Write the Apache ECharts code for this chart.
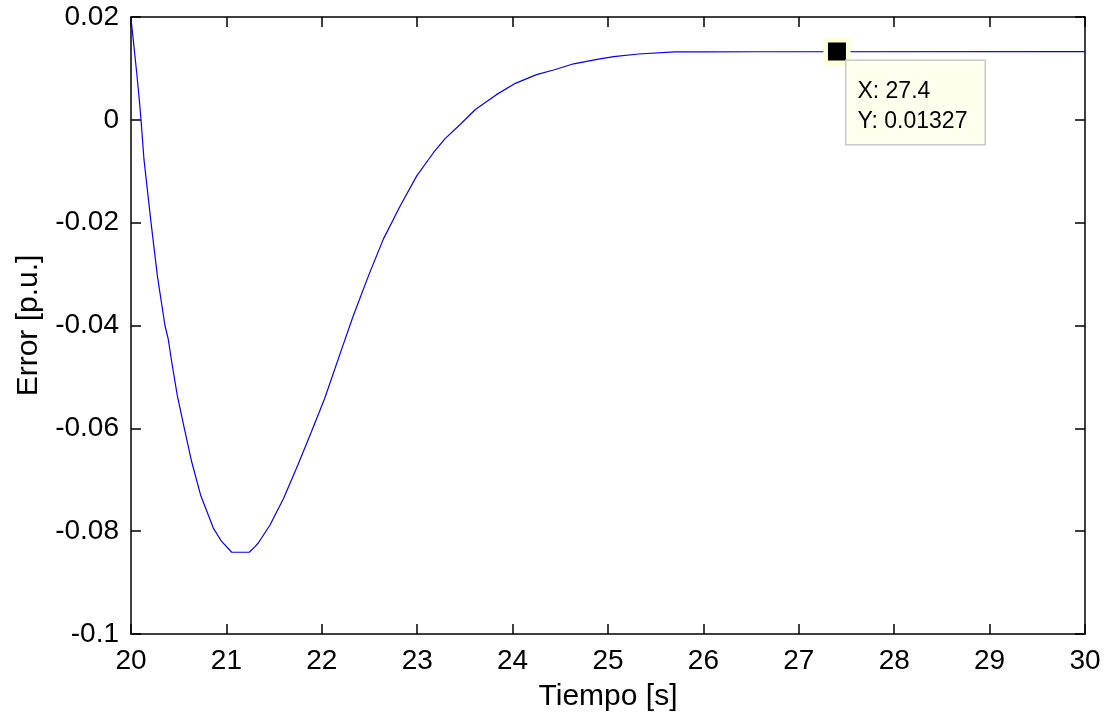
<!DOCTYPE html>
<html>
<head>
<meta charset="utf-8">
<script src="https://cdn.jsdelivr.net/npm/echarts@6/dist/echarts.min.js"></script>
<style>
html, body { margin: 0; padding: 0; background: #fff; }
#chart { width: 1108px; height: 717px; }
</style>
</head>
<body>
<div id="chart"></div>
<script>
// Data
const time = [20.0, 20.024, 20.06, 20.087, 20.105, 20.136, 20.21, 20.276, 20.356, 20.39, 20.427, 20.485, 20.559, 20.636, 20.73, 20.863, 20.95, 21.056, 21.24, 21.30, 21.334, 21.457, 21.6, 21.75, 21.89, 22.03, 22.21, 22.33, 22.49, 22.645, 22.82, 22.995, 23.17, 23.29, 23.45, 23.61, 23.83, 24.03, 24.25, 24.43, 24.64, 24.9, 25.06, 25.32, 25.70, 26.0, 26.57, 26.58, 30.0];
const errorPU = [0.0197, 0.0155, 0.0091, 0.0039, 0.0, -0.0077, -0.0200, -0.0303, -0.0400, -0.0426, -0.0471, -0.0536, -0.0600, -0.0665, -0.0730, -0.0794, -0.0820, -0.0841, -0.0841, -0.0830, -0.0823, -0.0788, -0.0736, -0.0671, -0.0607, -0.0542, -0.0445, -0.0381, -0.0303, -0.0232, -0.0168, -0.0109, -0.0064, -0.0037, -0.0009, 0.0020, 0.0049, 0.0071, 0.0088, 0.0097, 0.0109, 0.0118, 0.0123, 0.0128, 0.0132, 0.01322, 0.01324, 0.01327, 0.01327];
const tipX = 27.4;
const tipY = 0.01327;
const xTicks = [20, 21, 22, 23, 24, 25, 26, 27, 28, 29, 30];
const yTicks = [-0.1, -0.08, -0.06, -0.04, -0.02, 0, 0.02];
const xTitle = 'Tiempo [s]';
const yTitle = 'Error [p.u.]';

const FONT = '"Liberation Sans", Arial, sans-serif';
const chart = echarts.init(document.getElementById('chart'), null, { renderer: 'canvas' });

const lineData = time.map((t, i) => [t, errorPU[i]]);
const fmtY = v => { const r = Math.round(v * 100) / 100; return String(r === 0 ? 0 : r); };

const baseX = {
  type: 'value', min: xTicks[0], max: xTicks[xTicks.length - 1], interval: 1,
  axisLine: { show: true, onZero: false, lineStyle: { color: '#000', width: 1.5 } },
  axisTick: { show: true, inside: true, length: 10, lineStyle: { color: '#000', width: 1.5 } },
  splitLine: { show: false }
};
const baseY = {
  type: 'value', min: yTicks[0], max: yTicks[yTicks.length - 1], interval: 0.02,
  axisLine: { show: true, onZero: false, lineStyle: { color: '#000', width: 1.5 } },
  axisTick: { show: true, inside: true, length: 10, lineStyle: { color: '#000', width: 1.5 } },
  splitLine: { show: false }
};

chart.setOption({
  animation: false,
  backgroundColor: '#fff',
  grid: { left: 131, top: 17, right: 23, bottom: 81, containLabel: false },
  xAxis: [
    Object.assign({}, baseX, {
      position: 'bottom',
      axisLabel: { show: true, margin: 13, color: '#000', fontSize: 28, fontFamily: FONT },
      name: xTitle, nameLocation: 'middle', nameGap: 48,
      nameTextStyle: { color: '#000', fontSize: 30, fontFamily: FONT }
    }),
    Object.assign({}, baseX, { position: 'top', axisLabel: { show: false } })
  ],
  yAxis: [
    Object.assign({}, baseY, {
      position: 'left',
      axisLabel: { show: true, margin: 12, color: '#000', fontSize: 28, fontFamily: FONT, formatter: fmtY },
      name: yTitle, nameLocation: 'middle', nameGap: 87,
      nameTextStyle: { color: '#000', fontSize: 30, fontFamily: FONT }
    }),
    Object.assign({}, baseY, { position: 'right', axisLabel: { show: false } })
  ],
  series: [
    {
      type: 'line', xAxisIndex: 0, yAxisIndex: 0,
      data: lineData, showSymbol: false, smooth: false,
      lineStyle: { color: '#0000ff', width: 1.2 },
      z: 3
    },
    {
      type: 'scatter', xAxisIndex: 0, yAxisIndex: 0,
      data: [[tipX, tipY]],
      symbol: 'rect', symbolSize: 22.5,
      itemStyle: { color: '#000', borderColor: '#ffffd8', borderWidth: 4.5, opacity: 1 },
      z: 10,
      label: {
        show: true,
        position: [23, 23],
        align: 'left', verticalAlign: 'top',
        formatter: () => 'X: ' + tipX + '\nY: ' + tipY,
        color: '#000', opacity: 1, fontSize: 23, fontFamily: FONT, lineHeight: 30,
        backgroundColor: '#ffffee', borderColor: '#c8c8c8', borderWidth: 1.5,
        padding: [16, 10, 0, 11],
        width: 117, height: 67
      }
    }
  ]
});
</script>
</body>
</html>
